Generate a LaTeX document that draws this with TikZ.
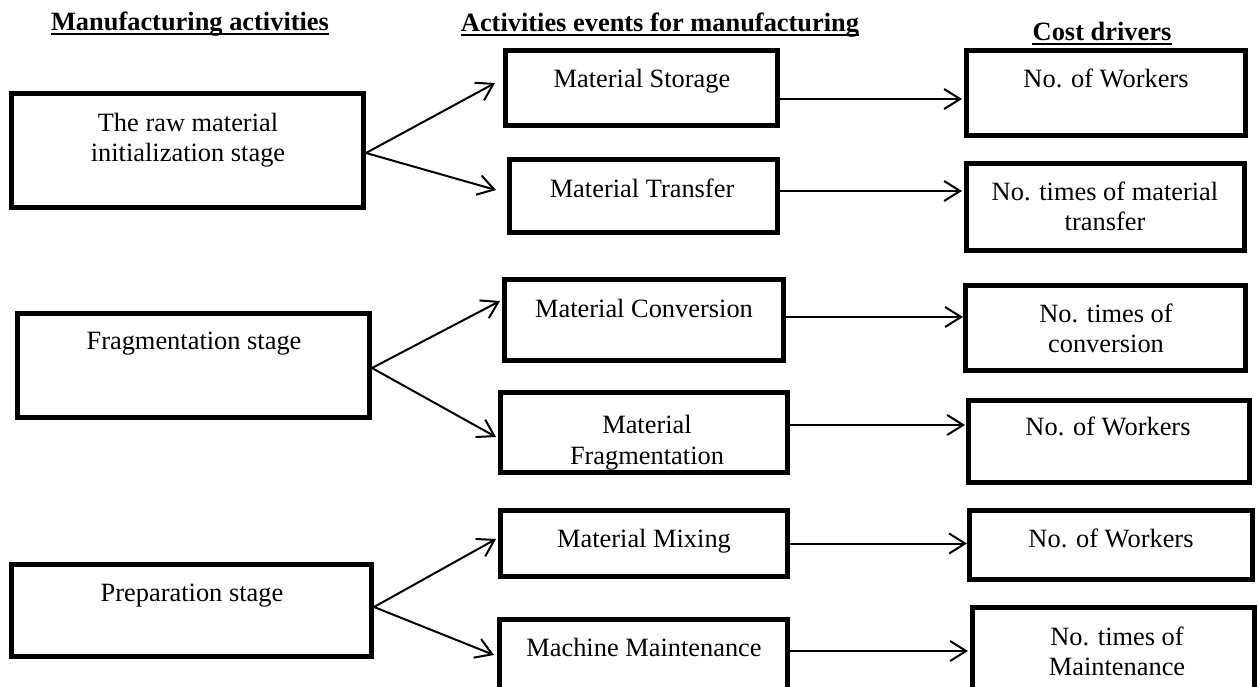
\documentclass[tikz,border=0pt]{standalone}
\usepackage{fontspec}
\setmainfont{Liberation Serif}
\usetikzlibrary{arrows.meta}
\begin{document}
\begin{tikzpicture}[x=0.5pt,y=-0.5pt,
  txt/.style={inner sep=0pt, anchor=base, font=\fontsize{13.2}{15}\selectfont},
  hdr/.style={inner sep=0pt, anchor=base, font=\fontsize{13.2}{15}\selectfont\bfseries},
  uline/.style={line width=1.2pt},
  mybox/.style={draw, line width=2.5pt, inner sep=0pt, fill=none},
  arr/.style={line width=1pt, -{Straight Barb[length=8pt,width=10pt,line width=1pt]}}]
\useasboundingbox (0,0) rectangle (1258,686);
\clip (0,0) rectangle (1258,686);

% headers
\node[hdr] (h1) at (190,30) {Manufacturing activities};
\node[hdr] (h2) at (660,31) {Activities events for manufacturing};
\node[hdr] (h3) at (1102,40) {Cost drivers};
\draw[uline] ([yshift=-1.9pt]h1.base west) -- ([yshift=-1.9pt]h1.base east);
\draw[uline] ([yshift=-1.9pt]h2.base west) -- ([yshift=-1.9pt]h2.base east);
\draw[uline] ([yshift=-1.9pt]h3.base west) -- ([yshift=-1.9pt]h3.base east);

% texts
\node[txt] (t1a) at (188,131) {The raw material};
\node[txt] (t1b) at (188,161) {initialization stage};
\node[txt] (t2) at (194,349) {Fragmentation stage};
\node[txt] (t3) at (192,601) {Preparation stage};
\node[txt] (ta) at (642,87) {Material Storage};
\node[txt] (tb) at (642,197) {Material Transfer};
\node[txt] (tc) at (644,317) {Material Conversion};
\node[txt] (tda) at (647,433) {Material};
\node[txt] (tdb) at (647,464) {Fragmentation};
\node[txt] (te) at (644,547) {Material Mixing};
\node[txt] (tf) at (644,656) {Machine Maintenance};
\node[txt] (ua) at (1106,87) {No. of Workers};
\node[txt] (uba) at (1105,200) {No. times of material};
\node[txt] (ubb) at (1105,230) {transfer};
\node[txt] (uca) at (1106,322) {No. times of};
\node[txt] (ucb) at (1106,352) {conversion};
\node[txt] (ud) at (1108,435) {No. of Workers};
\node[txt] (ue) at (1111,547) {No. of Workers};
\node[txt] (ufa) at (1117,645) {No. times of};
\node[txt] (ufb) at (1117,675) {Maintenance};

% boxes
\node[mybox, minimum width=176pt, minimum height=57pt] (raw) at (187.5,150.5) {};
\node[mybox, minimum width=176pt, minimum height=52pt] (frag) at (193.5,365.5) {};
\node[mybox, minimum width=180pt, minimum height=46pt] (prep) at (191.5,610.5) {};
\node[mybox, minimum width=136pt, minimum height=37.5pt] (stor) at (641.5,88) {};
\node[mybox, minimum width=134pt, minimum height=36.5pt] (trans) at (643.5,196) {};
\node[mybox, minimum width=139.5pt, minimum height=40.5pt] (conv) at (644,320) {};
\node[mybox, minimum width=143.5pt, minimum height=40pt] (mfrag) at (644,432.5) {};
\node[mybox, minimum width=143.5pt, minimum height=33pt] (mix) at (644,543.5) {};
\node[mybox, minimum width=144pt, minimum height=41.5pt] (maint) at (643.5,661) {};
\node[mybox, minimum width=139.5pt, minimum height=42.5pt] (w1) at (1106,93) {};
\node[mybox, minimum width=139pt, minimum height=43.5pt] (mt) at (1105.5,207) {};
\node[mybox, minimum width=140pt, minimum height=42.5pt] (tcv) at (1105.5,328) {};
\node[mybox, minimum width=140.5pt, minimum height=41pt] (w2) at (1109,441.5) {};
\node[mybox, minimum width=141.5pt, minimum height=34.5pt] (w3) at (1111,545) {};
\node[mybox, minimum width=141pt, minimum height=47.5pt] (tm) at (1113.5,655) {};

% fan arrows
\draw[arr] ([yshift=-1.25pt]raw.east) -- ([xshift=-4pt,yshift=2.5pt]stor.west);
\draw[arr] ([yshift=-1.25pt]raw.east) -- ([xshift=-5.5pt,yshift=3pt]trans.west);
\draw[arr] ([yshift=-1.25pt]frag.east) -- ([xshift=-1pt,yshift=9.5pt]conv.west);
\draw[arr] ([yshift=-1.25pt]frag.east) -- ([xshift=-1pt,yshift=-2.25pt]mfrag.west);
\draw[arr] ([yshift=1.75pt]prep.east) -- ([xshift=-1pt,yshift=2.25pt]mix.west);
\draw[arr] ([yshift=1.75pt]prep.east) -- ([xshift=-1.5pt,yshift=3pt]maint.west);

% horizontal arrows
\draw[arr, shorten >=1pt] ([yshift=-5.5pt]stor.east) -- ([yshift=-5.5pt]stor.east -| w1.west);
\draw[arr, shorten >=1pt] ([yshift=2.5pt]trans.east) -- ([yshift=2.5pt]trans.east -| mt.west);
\draw[arr] ([yshift=1.5pt]conv.east) -- ([yshift=1.5pt]conv.east -| tcv.west);
\draw[arr, shorten >=0.5pt] ([yshift=3.75pt]mfrag.east) -- ([yshift=3.75pt]mfrag.east -| w2.west);
\draw[arr] (mix.east) -- (mix.east -| w3.west);
\draw[arr, shorten >=1pt] ([yshift=5pt]maint.east) -- ([yshift=5pt]maint.east -| tm.west);
\end{tikzpicture}
\end{document}
